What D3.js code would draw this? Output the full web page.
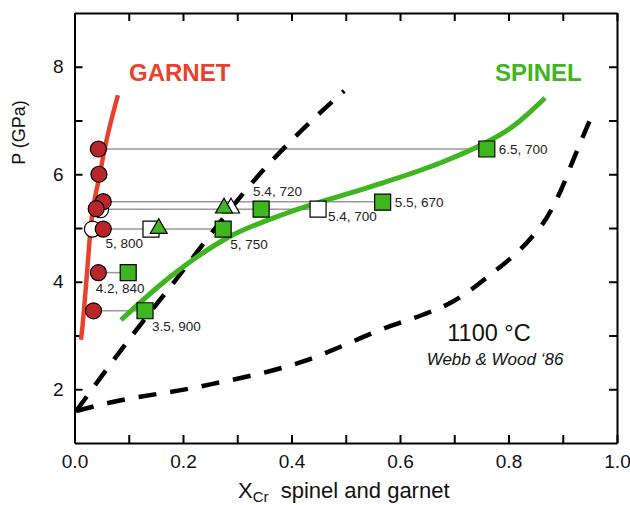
<!DOCTYPE html>
<html>
<head>
<meta charset="utf-8">
<script src="https://cdn.jsdelivr.net/npm/d3@7"></script>
<style>
  html, body { margin: 0; padding: 0; background: #fff; }
  svg { display: block; }
  text { font-family: "Liberation Sans", Arial, Helvetica, sans-serif; }
</style>
</head>
<body>
<svg id="chart" width="630" height="505"></svg>
<script>
// ---------- data ----------
const xTickValues = [0,0.1,0.2,0.3,0.4,0.5,0.6,0.7,0.8,0.9,1.0];
const xTickLabels = ["0.0","","0.2","","0.4","","0.6","","0.8","","1.0"];
const yTickValues = [2,3,4,5,6,7,8];
const yTickLabels = ["2","","4","","6","","8"];

// garnet (red) curve
const garnetX = [0.012,0.014,0.022,0.030,0.0465,0.056,0.080];
const garnetP = [2.92,3.10,4.03,5.02,5.99,6.49,7.47];

// spinel (green) curve
const spinelX = [0.0857,0.1760,0.2811,0.3972,0.5447,0.6737,0.7567,0.8065,0.8396,0.8673];
const spinelP = [3.288,4.088,4.814,5.298,5.763,6.209,6.581,6.879,7.158,7.419];

// Webb & Wood dashed curves
const dashAX = [0.003,0.121,0.191,0.263,0.335,0.417,0.497];
const dashAP = [1.595,3.195,4.09,5.04,5.93,6.80,7.55];
const dashBX = [0.003,0.062,0.231,0.416,0.583,0.6406,0.6959,0.766,0.8415,0.869,0.8968,0.9207,0.9502];
const dashBP = [1.595,1.744,2.05,2.50,3.177,3.381,3.623,4.126,4.814,5.167,5.707,6.302,7.009];

// tie lines (garnet X -> spinel X at pressure)
const tieP  = [6.47,5.49,5.35,4.98,4.17,3.46];
const tieX0 = [0.044,0.053,0.040,0.033,0.044,0.035];
const tieX1 = [0.760,0.568,0.449,0.274,0.099,0.130];

// garnet circles
const circX    = [0.048,0.033,0.044,0.045,0.053,0.040,0.053,0.044,0.035];
const circP    = [5.34,4.98,6.47,6.0,5.49,5.36,4.98,4.17,3.46];
const circFill = ["open","open","filled","filled","filled","filled","filled","filled","filled"];

// spinel squares
const sqX      = [0.760,0.568,0.344,0.274,0.099,0.130,0.449,0.141];
const sqP      = [6.47,5.48,5.35,4.98,4.17,3.46,5.35,4.98];
const sqFill   = ["filled","filled","filled","filled","filled","filled","open","open"];
const sqLabels = ["6.5, 700","5.5, 670","5.4, 720","5, 750","4.2, 840","3.5, 900","5.4, 700","5, 800"];
const sqPlace  = ["right","right","above","below","belowCenter","below","belowRight","belowLeft"];

// triangles
const triX    = [0.2885,0.2756,0.1553];
const triP    = [5.37,5.37,4.99];
const triFill = ["open","filled","filled"];

// ---------- drawing ----------
const svg = d3.select("#chart");
const x = d3.scaleLinear().domain([0,1]).range([74.5,617]);
const y = d3.scaleLinear().domain([1,9]).range([443,13]);

const RED = "#e8412c", DARKRED = "#b8262b", GREEN = "#3fb51f";
const font = '"Liberation Sans", Arial, Helvetica, sans-serif';

// axes
const axB = d3.axisBottom(x).tickValues(xTickValues).tickSize(-8).tickSizeOuter(0).tickPadding(12)
  .tickFormat((d,i)=>xTickLabels[i]);
const axT = d3.axisTop(x).tickValues(xTickValues).tickSize(-8).tickSizeOuter(0).tickFormat("");
const axL = d3.axisLeft(y).tickValues(yTickValues).tickSize(-8).tickSizeOuter(0).tickPadding(11)
  .tickFormat((d,i)=>yTickLabels[i]);
const axR = d3.axisRight(y).tickValues(yTickValues).tickSize(-8).tickSizeOuter(0).tickFormat("");

function styleAxis(g){
  g.selectAll("path.domain").attr("stroke","#000").attr("stroke-width",2);
  g.selectAll(".tick line").attr("stroke","#000").attr("stroke-width",2);
  g.selectAll(".tick text").attr("fill","#111").style("font-family",font).style("font-size","19px");
}
svg.append("g").attr("transform","translate(0,443)").call(axB).call(styleAxis);
svg.append("g").attr("transform","translate(0,13)").call(axT).call(styleAxis);
svg.append("g").attr("transform","translate(74.5,0)").call(axL).call(styleAxis);
svg.append("g").attr("transform","translate(617,0)").call(axR).call(styleAxis);

// tie lines
svg.append("g").selectAll("line").data(tieP).join("line")
  .attr("x1",(d,i)=>x(tieX0[i])).attr("x2",(d,i)=>x(tieX1[i]))
  .attr("y1",d=>y(d)).attr("y2",d=>y(d))
  .attr("stroke","#999").attr("stroke-width",1.5);

// curves
const line = d3.line().x(d=>x(d[0])).y(d=>y(d[1])).curve(d3.curveMonotoneX);
const zip = (a,b)=>a.map((v,i)=>[v,b[i]]);

svg.append("path").attr("d",line(zip(dashAX,dashAP)))
  .attr("fill","none").attr("stroke","#000").attr("stroke-width",4.5).attr("stroke-dasharray","18,14");
svg.append("path").attr("d",line(zip(dashBX,dashBP)))
  .attr("fill","none").attr("stroke","#000").attr("stroke-width",4.5).attr("stroke-dasharray","18,14");
svg.append("path").attr("d",line(zip(spinelX,spinelP)))
  .attr("fill","none").attr("stroke",GREEN).attr("stroke-width",5);
svg.append("path").attr("d",line(zip(garnetX,garnetP)))
  .attr("fill","none").attr("stroke",RED).attr("stroke-width",4.5);

// squares
svg.append("g").selectAll("path").data(sqX).join("path")
  .attr("transform",(d,i)=>`translate(${x(d)},${y(sqP[i])})`)
  .attr("d",d3.symbol(d3.symbolSquare,256)())
  .attr("fill",(d,i)=>sqFill[i]==="open"?"#fff":GREEN)
  .attr("stroke","#000").attr("stroke-width",1.2);

// triangles
svg.append("g").selectAll("path").data(triX).join("path")
  .attr("transform",(d,i)=>`translate(${x(d)},${y(triP[i])})`)
  .attr("d",d3.symbol(d3.symbolTriangle,125)())
  .attr("fill",(d,i)=>triFill[i]==="open"?"#fff":GREEN)
  .attr("stroke","#000").attr("stroke-width",1.2);

// circles
svg.append("g").selectAll("circle").data(circX).join("circle")
  .attr("cx",d=>x(d)).attr("cy",(d,i)=>y(circP[i])).attr("r",8)
  .attr("fill",(d,i)=>circFill[i]==="open"?"#fff":DARKRED)
  .attr("stroke","#000").attr("stroke-width",1.2);

// square labels
const place = {
  right:       {dx:12, dy:5,   a:"start"},
  belowRight:  {dx:10, dy:12,  a:"start"},
  above:       {dx:-8, dy:-13, a:"start"},
  below:       {dx:7,  dy:20,  a:"start"},
  belowCenter: {dx:-8, dy:20,  a:"middle"},
  belowLeft:   {dx:-8, dy:19,  a:"end"}
};
svg.append("g").selectAll("text").data(sqLabels).join("text")
  .attr("x",(d,i)=>x(sqX[i])+place[sqPlace[i]].dx)
  .attr("y",(d,i)=>y(sqP[i])+place[sqPlace[i]].dy)
  .attr("text-anchor",(d,i)=>place[sqPlace[i]].a)
  .style("font-size","13.5px").attr("fill","#222")
  .text(d=>d);

// annotations
svg.append("text").attr("x",129).attr("y",81).attr("fill",RED)
  .style("font-size","24px").style("font-weight","bold").text("GARNET");
svg.append("text").attr("x",495).attr("y",81).attr("fill",GREEN)
  .style("font-size","24px").style("font-weight","bold").text("SPINEL");
svg.append("text").attr("x",489).attr("y",341).attr("text-anchor","middle").attr("fill","#111")
  .style("font-size","23.5px").text("1100 °C");
svg.append("text").attr("x",495).attr("y",365).attr("text-anchor","middle").attr("fill","#111")
  .style("font-size","17px").style("font-style","italic").text("Webb & Wood ‘86");

// axis titles
svg.append("text").attr("transform","translate(25,132.5) rotate(-90)").attr("text-anchor","middle")
  .attr("fill","#111").style("font-size","18px").text("P (GPa)");
const xt = svg.append("text").attr("x",238).attr("y",498).attr("fill","#111").style("font-size","22px");
xt.append("tspan").text("X");
xt.append("tspan").attr("dy",4).style("font-size","15px").text("Cr");
xt.append("tspan").attr("dy",-4).text("\u00a0\u00a0spinel and garnet");
</script>
</body>
</html>
